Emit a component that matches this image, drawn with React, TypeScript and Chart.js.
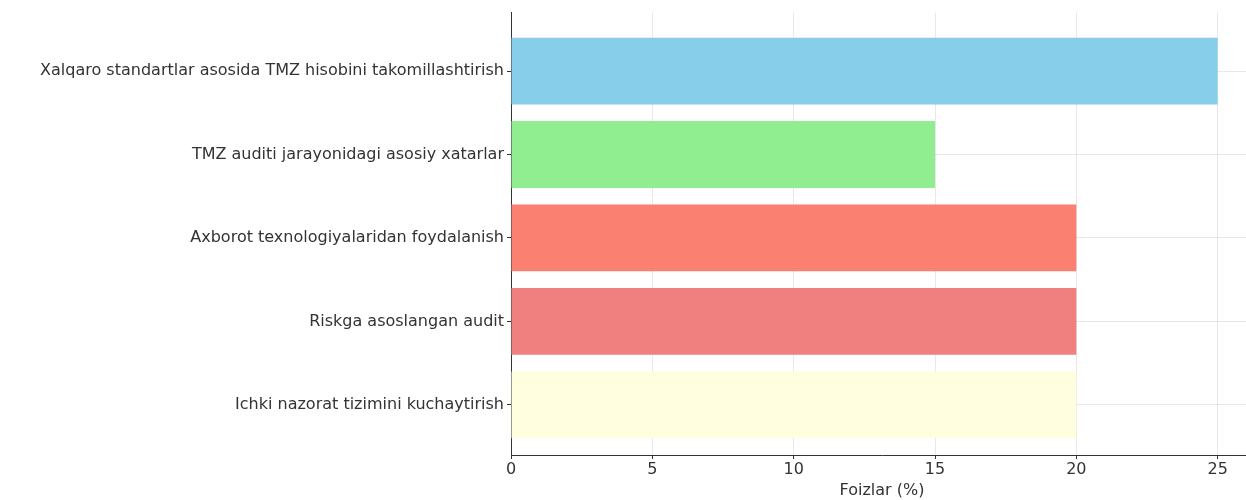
import React, { useEffect, useRef } from "react";
import { Chart, registerables } from "chart.js";

Chart.register(...registerables);

const categories: string[] = [
  "Xalqaro standartlar asosida TMZ hisobini takomillashtirish",
  "TMZ auditi jarayonidagi asosiy xatarlar",
  "Axborot texnologiyalaridan foydalanish",
  "Riskga asoslangan audit",
  "Ichki nazorat tizimini kuchaytirish",
];
const values: number[] = [25, 15, 20, 20, 20];
const barColors: string[] = ["#87CEEB", "#90EE90", "#FA8072", "#F08080", "#FFFFE0"];
const xTicks: number[] = [0, 5, 10, 15, 20, 25];
const xTitle = "Foizlar (%)";

export default function App() {
  const ref = useRef<HTMLCanvasElement | null>(null);
  useEffect(() => {
    if (!ref.current) return;
    const font = { family: "'DejaVu Sans', sans-serif", size: 16 };
    const chart = new Chart(ref.current, {
      type: "bar",
      data: {
        datasets: [
          {
            data: values.map((v, i) => ({ x: v, y: i })),
            backgroundColor: barColors,
            borderWidth: 0,
            barPercentage: 0.8,
            categoryPercentage: 1,
          },
        ],
      },
      options: {
        indexAxis: "y",
        animation: false,
        responsive: false,
        maintainAspectRatio: false,
        layout: { padding: { top: 12, right: 0, bottom: 0, left: 0 } },
        plugins: { legend: { display: false }, tooltip: { enabled: false } },
        scales: {
          x: {
            type: "linear",
            min: 0,
            max: 26.25,
            offset: false,
            afterBuildTicks: (scale: any) => {
              scale.ticks = xTicks.map((v) => ({ value: v }));
            },
            ticks: { font, color: "#333", padding: 1, maxRotation: 0 },
            grid: { offset: false, color: "rgba(0,0,0,0.09)", tickColor: "#333", tickLength: 4 },
            border: { display: true, color: "#333", width: 1 },
            title: { display: true, text: xTitle, font, color: "#333", padding: { top: 2, bottom: 0 } },
            afterFit: (scale: any) => {
              scale.height = 45;
            },
          },
          y: {
            type: "linear",
            reverse: true,
            min: -0.7,
            max: 4.6,
            offset: false,
            afterBuildTicks: (scale: any) => {
              scale.ticks = categories.map((_, i) => ({ value: i }));
            },
            ticks: {
              font,
              color: "#333",
              padding: 3,
              callback: (v: any) => categories[Math.round(Number(v))] ?? "",
            },
            grid: { offset: false, color: "rgba(0,0,0,0.09)", tickColor: "#333", tickLength: 4 },
            border: { display: true, color: "#333", width: 1 },
            afterFit: (scale: any) => {
              scale.width = 511;
            },
          },
        },
      },
    });
    return () => chart.destroy();
  }, []);
  return (
    <div style={{ position: "absolute", left: 0, top: 0, width: 1246, height: 500, overflow: "hidden", background: "#fff" }}>
      <canvas ref={ref} width={1253} height={500} style={{ width: 1253, height: 500, display: "block" }} />
    </div>
  );
}
